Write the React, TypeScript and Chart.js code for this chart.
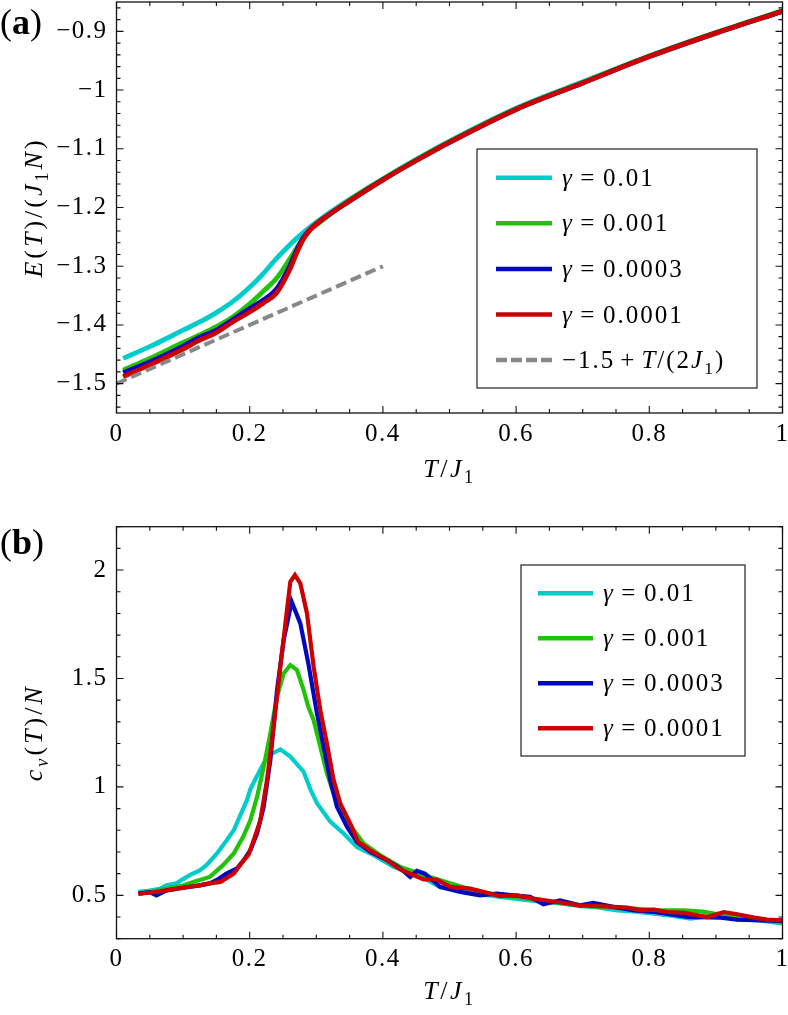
import React, { useEffect, useRef } from "react";
import { Chart, registerables } from "chart.js";
Chart.register(...registerables);

const FONT = '"Liberation Serif", serif';
const TICK_SIZE = 25;
const TEXT_SIZE = 25;

// ---------- ticks ----------
const X_TICKS = [0, 0.2, 0.4, 0.6, 0.8, 1];
const X_TICK_LABELS = ["0", "0.2", "0.4", "0.6", "0.8", "1"];
const Y_TICKS_A = [-1.5, -1.4, -1.3, -1.2, -1.1, -1, -0.9];
const Y_TICK_LABELS_A = ["−1.5", "−1.4", "−1.3", "−1.2", "−1.1", "−1", "−0.9"];
const Y_TICKS_B = [0.5, 1, 1.5, 2];
const Y_TICK_LABELS_B = ["0.5", "1", "1.5", "2"];

// ---------- series labels ----------
const GAMMAS = ["0.01", "0.001", "0.0003", "0.0001"];
const COLORS = ["#00CCCC", "#22C20A", "#0008C0", "#CC0000"];

// ---------- panel (a): energy ----------
const T_A = [0.01, 0.05, 0.1, 0.125, 0.15, 0.175, 0.2, 0.22, 0.24, 0.26, 0.27, 0.28, 0.29, 0.3, 0.35, 0.4, 0.45, 0.5, 0.6, 0.7, 0.8, 0.9, 1.0];
const E_G001 = [-1.457, -1.437, -1.409, -1.395, -1.379, -1.36, -1.336, -1.313, -1.287, -1.264, -1.253, -1.243, -1.234, -1.225, -1.186, -1.151, -1.118, -1.087, -1.031, -0.986, -0.942, -0.902, -0.865];
const E_G0001 = [-1.477, -1.457, -1.43, -1.417, -1.403, -1.386, -1.364, -1.343, -1.321, -1.288, -1.27, -1.253, -1.239, -1.23, -1.187, -1.152, -1.119, -1.088, -1.032, -0.987, -0.942, -0.902, -0.865];
const E_G00003 = [-1.4815, -1.463, -1.436, -1.421, -1.409, -1.3906, -1.372, -1.358, -1.339, -1.3, -1.274, -1.252, -1.238, -1.228, -1.189, -1.153, -1.12, -1.089, -1.033, -0.988, -0.943, -0.903, -0.866];
const E_G00001 = [-1.488, -1.468, -1.441, -1.426, -1.413, -1.3946, -1.378, -1.363, -1.346, -1.306, -1.279, -1.255, -1.239, -1.228, -1.189, -1.153, -1.12, -1.089, -1.033, -0.988, -0.943, -0.903, -0.866];
const T_LIN = [0, 0.4];
const E_LIN = [-1.5, -1.3];

// ---------- panel (b): specific heat ----------
const T_B_G001 = [0.033, 0.05, 0.065, 0.075, 0.09, 0.1, 0.11, 0.125, 0.135, 0.15, 0.165, 0.176, 0.186, 0.196, 0.201, 0.211, 0.221, 0.231, 0.246, 0.261, 0.281, 0.291, 0.301, 0.321, 0.341, 0.361, 0.386, 0.416, 0.456, 0.486, 0.52, 0.546, 0.576, 0.61, 0.641, 0.67, 0.696, 0.72, 0.752, 0.78, 0.807, 0.835, 0.862, 0.897, 0.93, 0.96, 1.0];
const C_G001 = [0.516, 0.522, 0.53, 0.546, 0.556, 0.575, 0.593, 0.615, 0.639, 0.69, 0.752, 0.8, 0.87, 0.94, 0.99, 1.05, 1.11, 1.15, 1.173, 1.14, 1.07, 0.99, 0.925, 0.84, 0.785, 0.723, 0.685, 0.631, 0.59, 0.537, 0.52, 0.505, 0.493, 0.48, 0.47, 0.462, 0.45, 0.445, 0.431, 0.425, 0.416, 0.405, 0.393, 0.408, 0.39, 0.385, 0.37];

const T_B_G0001 = [0.033, 0.05, 0.075, 0.1, 0.115, 0.13, 0.14, 0.16, 0.176, 0.19, 0.201, 0.211, 0.221, 0.231, 0.241, 0.251, 0.261, 0.271, 0.281, 0.288, 0.296, 0.306, 0.316, 0.326, 0.336, 0.351, 0.371, 0.396, 0.426, 0.456, 0.48, 0.511, 0.54, 0.576, 0.605, 0.636, 0.665, 0.696, 0.73, 0.777, 0.81, 0.852, 0.88, 0.897, 0.94, 1.0];
const C_G0001 = [0.508, 0.515, 0.531, 0.545, 0.562, 0.575, 0.585, 0.639, 0.693, 0.769, 0.846, 0.954, 1.092, 1.247, 1.415, 1.523, 1.562, 1.539, 1.446, 1.369, 1.308, 1.185, 1.062, 0.97, 0.908, 0.823, 0.739, 0.685, 0.631, 0.6, 0.575, 0.547, 0.52, 0.5, 0.49, 0.477, 0.465, 0.454, 0.445, 0.439, 0.432, 0.431, 0.425, 0.416, 0.405, 0.373];

const T_B_G00003 = [0.033, 0.05, 0.06, 0.075, 0.09, 0.1, 0.125, 0.14, 0.15, 0.165, 0.181, 0.191, 0.201, 0.211, 0.221, 0.231, 0.241, 0.251, 0.263, 0.276, 0.288, 0.301, 0.311, 0.321, 0.331, 0.346, 0.361, 0.381, 0.406, 0.426, 0.441, 0.451, 0.463, 0.486, 0.516, 0.546, 0.571, 0.596, 0.621, 0.641, 0.666, 0.696, 0.716, 0.746, 0.777, 0.807, 0.857, 0.907, 0.932, 0.957, 1.0];
const C_G00003 = [0.508, 0.515, 0.5, 0.523, 0.53, 0.535, 0.546, 0.555, 0.57, 0.6, 0.624, 0.662, 0.708, 0.785, 0.908, 1.123, 1.446, 1.677, 1.854, 1.754, 1.57, 1.339, 1.185, 1.031, 0.908, 0.816, 0.746, 0.7, 0.662, 0.624, 0.585, 0.613, 0.6, 0.539, 0.516, 0.5, 0.508, 0.5, 0.493, 0.459, 0.477, 0.454, 0.465, 0.447, 0.431, 0.423, 0.4, 0.397, 0.388, 0.385, 0.382];

const T_B_G00001 = [0.033, 0.05, 0.075, 0.1, 0.125, 0.14, 0.156, 0.176, 0.191, 0.198, 0.206, 0.216, 0.226, 0.236, 0.246, 0.256, 0.261, 0.268, 0.276, 0.286, 0.296, 0.306, 0.316, 0.326, 0.336, 0.351, 0.363, 0.381, 0.406, 0.426, 0.461, 0.481, 0.501, 0.531, 0.551, 0.576, 0.601, 0.626, 0.651, 0.696, 0.727, 0.767, 0.787, 0.807, 0.827, 0.852, 0.887, 0.912, 0.932, 0.957, 0.977, 1.0];
const C_G00001 = [0.508, 0.512, 0.523, 0.535, 0.546, 0.555, 0.562, 0.6, 0.662, 0.685, 0.754, 0.846, 1.031, 1.277, 1.554, 1.816, 1.946, 1.977, 1.939, 1.8, 1.554, 1.354, 1.2, 1.031, 0.924, 0.831, 0.746, 0.708, 0.662, 0.619, 0.573, 0.573, 0.539, 0.531, 0.516, 0.496, 0.5, 0.485, 0.474, 0.454, 0.45, 0.444, 0.431, 0.434, 0.423, 0.419, 0.4, 0.423, 0.413, 0.397, 0.388, 0.385];

// ---------- rich text helpers ----------
type Seg = { t: string; it?: boolean; sub?: boolean; b?: boolean; pre?: number; post?: number };

function fontFor(s: Seg, size: number) {
  const sz = Math.round((s.sub ? size * 0.7 : size) * 10) / 10;
  return `${s.it ? "italic " : ""}${s.b ? "bold " : ""}${sz}px ${FONT}`;
}
function segAdvance(ctx: CanvasRenderingContext2D, s: Seg, size: number) {
  ctx.font = fontFor(s, size);
  return ctx.measureText(s.t).width + ((s.pre || 0) + (s.post || 0)) * size;
}
function drawRich(ctx: CanvasRenderingContext2D, segs: Seg[], x: number, y: number, size: number, align: string, spacing: number) {
  ctx.save();
  (ctx as any).letterSpacing = spacing + "px";
  let w = 0;
  for (const s of segs) w += segAdvance(ctx, s, size);
  let cx = align === "center" ? x - w / 2 : align === "right" ? x - w : x;
  ctx.textAlign = "left";
  ctx.textBaseline = "alphabetic";
  for (const s of segs) {
    ctx.font = fontFor(s, size);
    cx += (s.pre || 0) * size;
    ctx.fillText(s.t, cx, y + (s.sub ? size * 0.22 : 0));
    cx += ctx.measureText(s.t).width + (s.post || 0) * size;
  }
  ctx.restore();
}

const gammaSegs = (g: string): Seg[] => [{ t: "γ", it: true }, { t: "=", pre: 0.26, post: 0.26 }, { t: g }];
const LIN_SEGS: Seg[] = [{ t: "−1.5" }, { t: "+", pre: 0.2, post: 0.2 }, { t: "T", it: true }, { t: "/(2" }, { t: "J", it: true }, { t: "1", sub: true }, { t: ")" }];
const X_TITLE: Seg[] = [{ t: "T", it: true }, { t: "/" }, { t: "J", it: true }, { t: "1", sub: true }];
const Y_TITLE_A: Seg[] = [{ t: "E", it: true }, { t: "(" }, { t: "T", it: true }, { t: ")/(" }, { t: "J", it: true }, { t: "1", sub: true }, { t: "N", it: true }, { t: ")" }];
const Y_TITLE_B: Seg[] = [{ t: "c", it: true }, { t: "v", it: true, sub: true }, { t: "(" }, { t: "T", it: true }, { t: ")/" }, { t: "N", it: true }];
const PANEL_A: Seg[] = [{ t: "(" }, { t: "a", b: true }, { t: ")" }];
const PANEL_B: Seg[] = [{ t: "(" }, { t: "b", b: true }, { t: ")" }];

interface LegendItem { segs: Seg[]; color: string; dash?: number[] }
interface Decor {
  xMinorStep: number; yMinorStep: number; xMajor: number[]; yMajor: number[];
  xTitle: Seg[]; xTitleY: number; yTitle: Seg[]; yTitleX: number;
  panel: Seg[]; panelY: number;
  legend: { items: LegendItem[]; dx0: number; dx1: number; dy0: number; dy1: number; row0: number; rowStep: number; line0: number; line1: number; text: number };
}

function decorPlugin(d: Decor) {
  return {
    id: "decor",
    beforeDraw(chart: any) {
      (chart.ctx as any).letterSpacing = "1.5px";
    },
    afterDraw(chart: any) {
      const ctx: CanvasRenderingContext2D = chart.ctx;
      const ca = chart.chartArea;
      const xs = chart.scales.x;
      const ys = chart.scales.y;
      ctx.save();
      // frame
      ctx.strokeStyle = "#111";
      ctx.lineWidth = 1.3;
      ctx.strokeRect(ca.left, ca.top, ca.right - ca.left, ca.bottom - ca.top);
      // inward ticks on all four sides
      ctx.lineWidth = 1.1;
      ctx.beginPath();
      const ix0 = Math.ceil(xs.min / d.xMinorStep - 1e-6);
      const ix1 = Math.floor(xs.max / d.xMinorStep + 1e-6);
      for (let i = ix0; i <= ix1; i++) {
        const v = i * d.xMinorStep;
        const major = d.xMajor.some((m) => Math.abs(m - v) < 1e-6);
        const len = major ? 7 : 4;
        const p = xs.getPixelForValue(v);
        ctx.moveTo(p, ca.bottom); ctx.lineTo(p, ca.bottom - len);
        ctx.moveTo(p, ca.top); ctx.lineTo(p, ca.top + len);
      }
      const iy0 = Math.ceil(ys.min / d.yMinorStep - 1e-6);
      const iy1 = Math.floor(ys.max / d.yMinorStep + 1e-6);
      for (let i = iy0; i <= iy1; i++) {
        const v = i * d.yMinorStep;
        const major = d.yMajor.some((m) => Math.abs(m - v) < 1e-6);
        const len = major ? 7 : 4;
        const p = ys.getPixelForValue(v);
        ctx.moveTo(ca.left, p); ctx.lineTo(ca.left + len, p);
        ctx.moveTo(ca.right, p); ctx.lineTo(ca.right - len, p);
      }
      ctx.stroke();
      // legend
      const L = d.legend;
      const bx0 = ca.right - L.dx0, bx1 = ca.right - L.dx1;
      const by0 = ca.top + L.dy0, by1 = ca.top + L.dy1;
      ctx.fillStyle = "#fff";
      ctx.fillRect(bx0, by0, bx1 - bx0, by1 - by0);
      ctx.strokeStyle = "#222";
      ctx.lineWidth = 1.2;
      ctx.strokeRect(bx0, by0, bx1 - bx0, by1 - by0);
      L.items.forEach((it, i) => {
        const y = ca.top + L.row0 + i * L.rowStep;
        ctx.strokeStyle = it.color;
        ctx.lineWidth = 4.5;
        ctx.setLineDash(it.dash || []);
        ctx.beginPath();
        ctx.moveTo(bx0 + L.line0, y);
        ctx.lineTo(bx0 + L.line1, y);
        ctx.stroke();
        ctx.setLineDash([]);
        ctx.fillStyle = "#000";
        drawRich(ctx, it.segs, bx0 + L.text, y + 8, TEXT_SIZE, "left", 2);
      });
      // axis titles and panel label
      ctx.fillStyle = "#000";
      drawRich(ctx, d.xTitle, (ca.left + ca.right) / 2, d.xTitleY, TEXT_SIZE + 1, "center", 2.5);
      ctx.save();
      ctx.translate(d.yTitleX, (ca.top + ca.bottom) / 2);
      ctx.rotate(-Math.PI / 2);
      drawRich(ctx, d.yTitle, 0, 0, TEXT_SIZE + 1, "center", 3);
      ctx.restore();
      drawRich(ctx, d.panel, 0, d.panelY, 36, "left", 0);
      ctx.restore();
    },
  };
}

function makeScales(yMin: number, yMax: number, yTicks: number[], yLabels: string[], xHeight: number) {
  const tickFont = { size: TICK_SIZE, family: FONT };
  return {
    x: {
      type: "linear", min: 0, max: 1,
      grid: { display: false, drawTicks: false }, border: { display: false },
      ticks: { padding: 6, font: tickFont, color: "#000", maxRotation: 0, autoSkip: false,
        callback: (v: number) => { const i = X_TICKS.findIndex((t) => Math.abs(t - v) < 1e-9); return i >= 0 ? X_TICK_LABELS[i] : ""; } },
      afterBuildTicks: (s: any) => { s.ticks = X_TICKS.map((v) => ({ value: v })); },
      afterFit: (s: any) => { s.height = xHeight; s.paddingLeft = 0; s.paddingRight = 0; },
    },
    y: {
      type: "linear", min: yMin, max: yMax,
      grid: { display: false, drawTicks: false }, border: { display: false },
      ticks: { padding: 9, font: tickFont, color: "#000", autoSkip: false,
        callback: (v: number) => { const i = yTicks.findIndex((t) => Math.abs(t - v) < 1e-9); return i >= 0 ? yLabels[i] : ""; } },
      afterBuildTicks: (s: any) => { s.ticks = yTicks.map((v) => ({ value: v })); },
      afterFit: (s: any) => { s.width = 116.5; s.paddingTop = 0; s.paddingBottom = 0; },
    },
  };
}

const zip = (xs: number[], ys: number[]) => xs.map((x, i) => ({ x, y: ys[i] }));

export default function App() {
  const refA = useRef<HTMLCanvasElement>(null);
  const refB = useRef<HTMLCanvasElement>(null);

  useEffect(() => {
    Chart.defaults.font.family = FONT;
    const seriesA = [E_G001, E_G0001, E_G00003, E_G00001];
    const dsA: any[] = seriesA.map((ys, i) => ({
      label: "γ = " + GAMMAS[i],
      data: zip(T_A, ys),
      borderColor: COLORS[i],
      borderWidth: 4.8,
      pointRadius: 0,
      cubicInterpolationMode: "monotone",
      order: 4 - i,
    }));
    dsA.push({
      label: "−1.5 + T/(2J1)",
      data: zip(T_LIN, E_LIN),
      borderColor: "#888888",
      borderWidth: 4,
      borderDash: [11, 5],
      pointRadius: 0,
      order: 0,
    });

    const chartA = new Chart(refA.current as HTMLCanvasElement, {
      type: "line",
      data: { datasets: dsA },
      options: {
        animation: false,
        responsive: false,
        layout: { padding: { top: 2, right: 5.5, left: 0, bottom: 0 } },
        plugins: { legend: { display: false }, tooltip: { enabled: false } },
        scales: makeScales(-1.55, -0.85, Y_TICKS_A, Y_TICK_LABELS_A, 94) as any,
      },
      plugins: [
        decorPlugin({
          xMinorStep: 0.05, yMinorStep: 0.02, xMajor: X_TICKS, yMajor: Y_TICKS_A,
          xTitle: X_TITLE, xTitleY: 477, yTitle: Y_TITLE_A, yTitleX: 42,
          panel: PANEL_A, panelY: 34,
          legend: {
            items: [
              ...GAMMAS.map((g, i) => ({ segs: gammaSegs(g), color: COLORS[i] })),
              { segs: LIN_SEGS, color: "#888888", dash: [11, 4] },
            ],
            dx0: 305.5, dx1: 25.5, dy0: 147, dy1: 386, row0: 175.7, rowStep: 45.6,
            line0: 19, line1: 75, text: 85,
          },
        }) as any,
      ],
    });

    const xsB = [T_B_G001, T_B_G0001, T_B_G00003, T_B_G00001];
    const ysB = [C_G001, C_G0001, C_G00003, C_G00001];
    const dsB = ysB.map((ys, i) => ({
      label: "γ = " + GAMMAS[i],
      data: zip(xsB[i], ys),
      borderColor: COLORS[i],
      borderWidth: 4.2,
      pointRadius: 0,
      tension: 0,
      order: 4 - i,
    }));

    const chartB = new Chart(refB.current as HTMLCanvasElement, {
      type: "line",
      data: { datasets: dsB as any },
      options: {
        animation: false,
        responsive: false,
        layout: { padding: { top: 19.7, right: 5.5, left: 0, bottom: 0 } },
        plugins: { legend: { display: false }, tooltip: { enabled: false } },
        scales: makeScales(0.3, 2.2, Y_TICKS_B, Y_TICK_LABELS_B, 76.3) as any,
      },
      plugins: [
        decorPlugin({
          xMinorStep: 0.05, yMinorStep: 0.1, xMajor: X_TICKS, yMajor: Y_TICKS_B,
          xTitle: X_TITLE, xTitleY: 492, yTitle: Y_TITLE_B, yTitleX: 42,
          panel: PANEL_B, panelY: 47,
          legend: {
            items: GAMMAS.map((g, i) => ({ segs: gammaSegs(g), color: COLORS[i] })),
            dx0: 261.5, dx1: 37.5, dy0: 38.3, dy1: 229.3, row0: 66.6, rowStep: 45,
            line0: 17, line1: 72, text: 82,
          },
        }) as any,
      ],
    });

    return () => {
      chartA.destroy();
      chartB.destroy();
    };
  }, []);

  return (
    <div style={{ position: "absolute", left: 0, top: 0, width: 788, height: 1015, background: "#fff" }}>
      <canvas ref={refA} width={788} height={507} style={{ display: "block", width: 788, height: 507 }} />
      <canvas ref={refB} width={788} height={508} style={{ display: "block", width: 788, height: 508 }} />
    </div>
  );
}
